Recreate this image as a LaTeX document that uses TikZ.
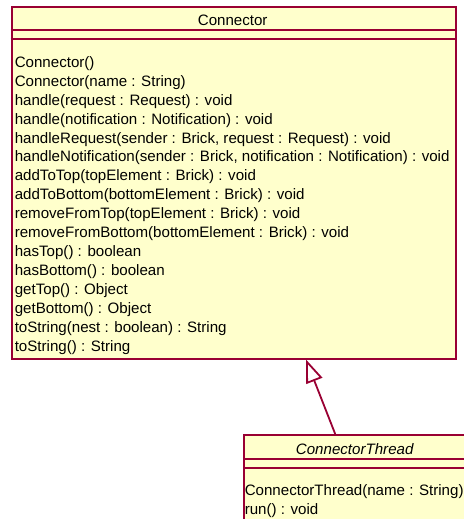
\documentclass[tikz,border=0pt]{standalone}
\usepackage{fontspec}
\setmainfont{Liberation Sans}
\usetikzlibrary{arrows.meta,calc}
\definecolor{umlred}{RGB}{153,0,51}
\definecolor{umlfill}{RGB}{255,255,204}
\tikzset{
classbox/.style={draw=umlred,fill=umlfill,line width=2pt,
anchor=north west,inner sep=0pt},
divider/.style={draw=umlred,line width=2pt},
member/.style={anchor=base west,inner sep=0pt,
font=\fontsize{15.1}{17}\selectfont},
classname/.style={anchor=base,inner sep=0pt,
font=\fontsize{15.1}{17}\selectfont}
}
\begin{document}
\begin{tikzpicture}[x=1pt,y=-1pt,>={Triangle[open,length=23pt,width=17pt]}]
\useasboundingbox (0,0) rectangle (463,519);
% class Connector
\node[classbox,minimum width=444.5pt,minimum height=351.5pt]
(connector) at (10.5,6) {};
\draw[divider] ($(connector.north west)+(0,24)$)
-- ($(connector.north east)+(0,24)$);
\draw[divider] ($(connector.north west)+(0,33.5)$)
-- ($(connector.north east)+(0,33.5)$);
\node[classname] (connectorname) at (232.7,25.3) {Connector};
\foreach \m [count=\i] in {Connector(),
Connector(name : String),
handle(request : Request) : void,
handle(notification : Notification) : void,
{handleRequest(sender : Brick, request : Request) : void},
{handleNotification(sender : Brick, notification : Notification) : void},
addToTop(topElement : Brick) : void,
addToBottom(bottomElement : Brick) : void,
removeFromTop(topElement : Brick) : void,
removeFromBottom(bottomElement : Brick) : void,
hasTop() : boolean,
hasBottom() : boolean,
getTop() : Object,
getBottom() : Object,
toString(nest : boolean) : String,
toString() : String}
\node[member] (m\i) at (14.6,{67.3+(\i-1)*18.93}) {\m};
% class ConnectorThread
\node[classbox,minimum width=223pt,minimum height=110pt]
(thread) at (243.2,434) {};
\draw[divider] ($(thread.north west)+(0,25.3)$)
-- ($(thread.north east)+(0,25.3)$);
\draw[divider] ($(thread.north west)+(0,34)$)
-- ($(thread.north east)+(0,34)$);
\node[classname,font=\fontsize{15.1}{17}\selectfont\itshape]
(threadname) at (354.7,454) {ConnectorThread};
\node[member] (t1) at (244.6,495.7) {ConnectorThread(name : String)};
\node[member] (t2) at (244.6,514.6) {run() : void};
% generalization
\draw[->,umlred,line width=1.8pt] ($(thread.north west)+(92,0)$)
-- ($(connector.south west)+(295.5,0)$);
\end{tikzpicture}
\end{document}
